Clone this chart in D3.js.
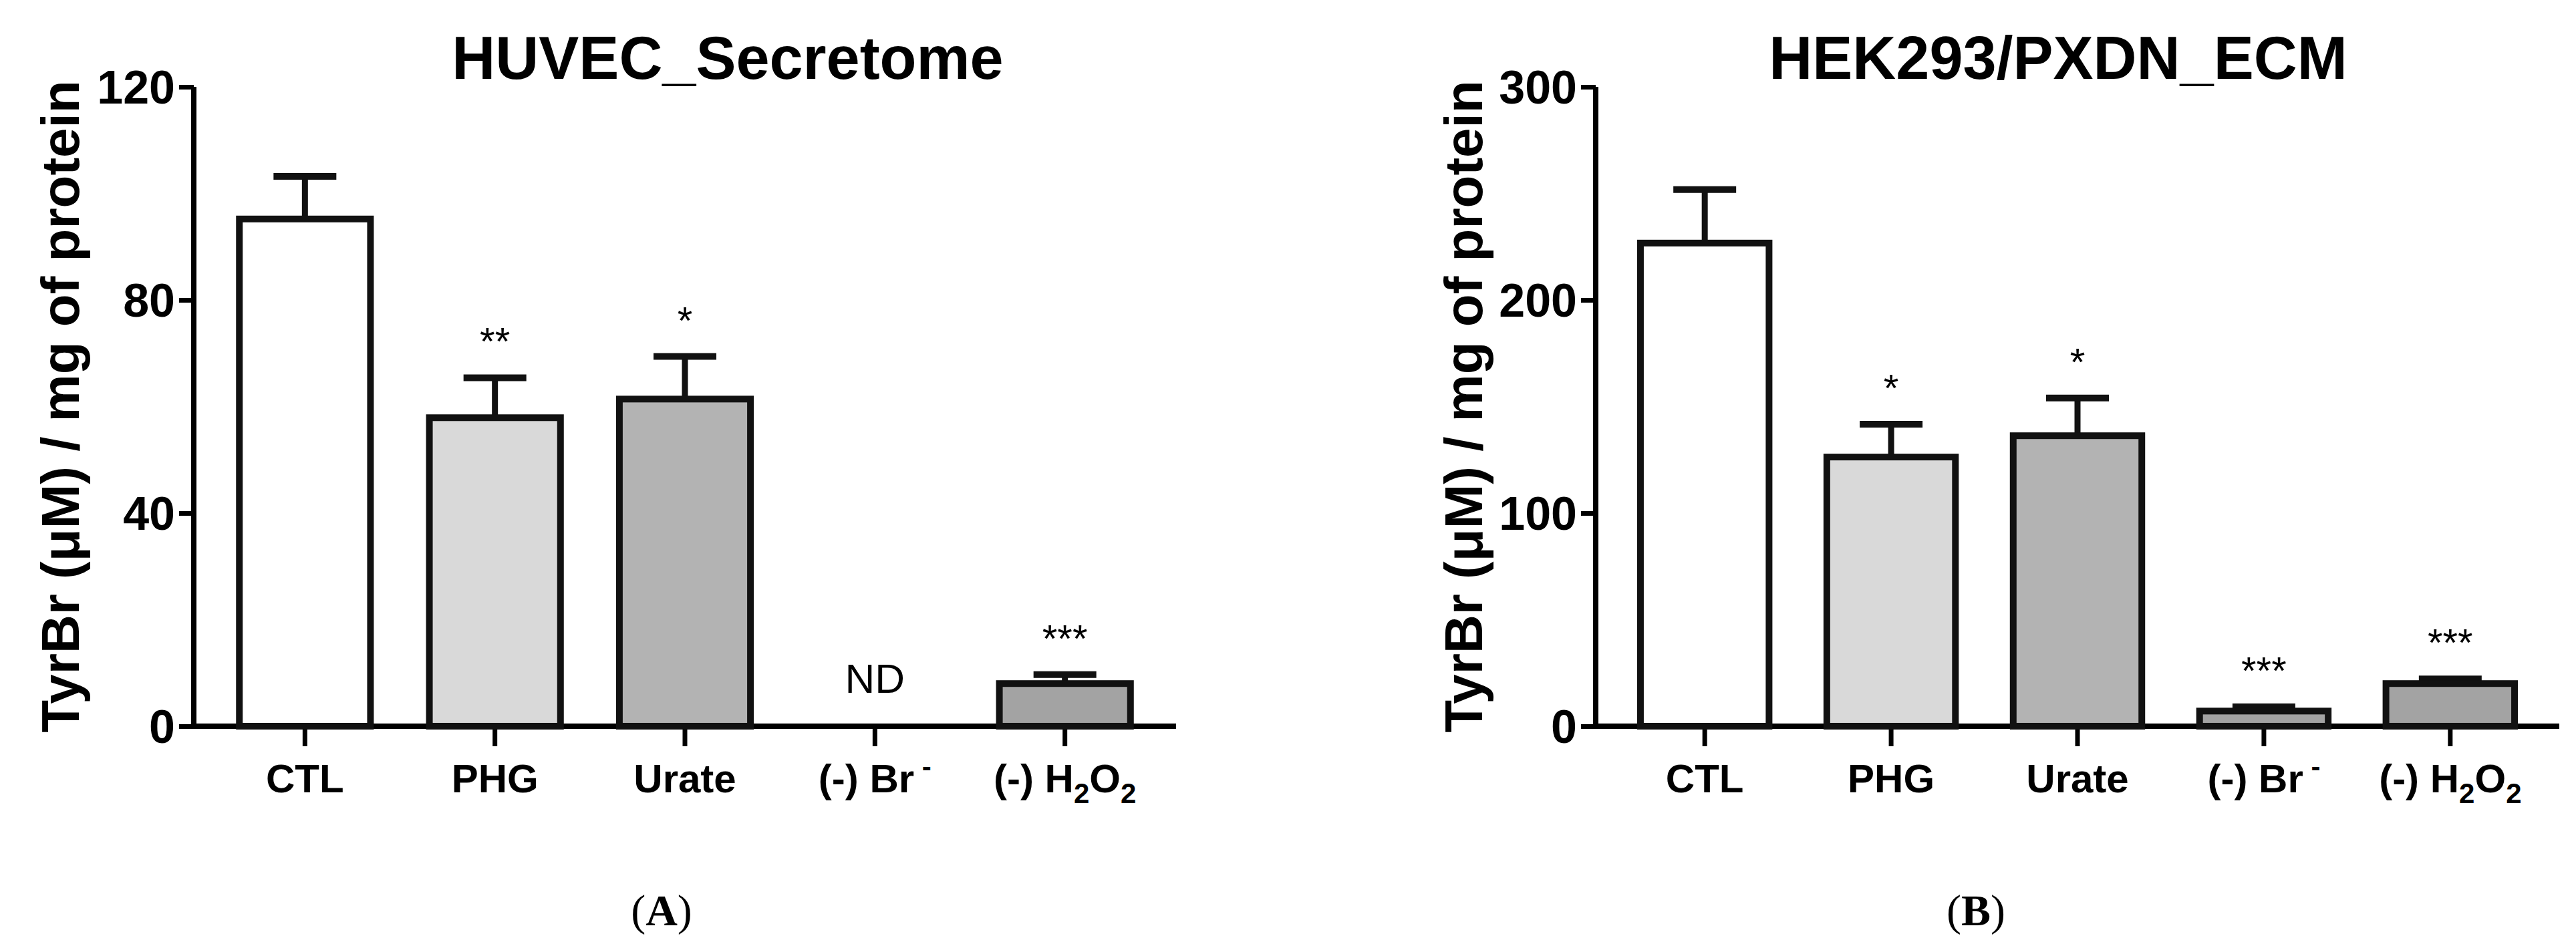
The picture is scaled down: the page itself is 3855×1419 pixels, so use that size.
<!DOCTYPE html>
<html><head><meta charset="utf-8">
<script src="https://cdn.jsdelivr.net/npm/d3@7"></script>
<style>body{margin:0;background:#fff}</style></head>
<body><svg id="c" width="3855" height="1419"></svg>
<script>
const categories = ["CTL","PHG","Urate","Br","H2O2"];
const valuesA = [95.2, 57.9, 61.4, null, 8.0];
const errorsA = [103.2, 65.4, 69.4, null, 9.7];
const starsA = ["", "**", "*", "ND", "***"];
const ticksA = [0, 40, 80, 120];
const valuesB = [226.7, 126.3, 136.3, 7.1, 20.0];
const errorsB = [251.8, 141.7, 154.0, 9.1, 22.2];
const starsB = ["", "*", "*", "***", "***"];
const ticksB = [0, 100, 200, 300];
const colors = ["#ffffff", "#d9d9d9", "#b3b3b3", "#a3a3a3", "#a3a3a3"];

const svg = d3.select("#c");
svg.append("rect").attr("width",3855).attr("height",1419).attr("fill","#fff");
const F = "'Liberation Sans', Arial, sans-serif";

function panel(o){
  const g = svg.append("g");
  const x = d3.scaleBand().domain(categories).range([o.x0, o.x1]).paddingInner(0.31).paddingOuter(0.24);
  const y = d3.scaleLinear().domain([0, o.max]).range([1087, 130]);
  const ya = g.append("g").attr("transform",`translate(${o.x0},0)`)
    .call(d3.axisLeft(y).tickValues(o.ticks).tickSize(22).tickPadding(6));
  ya.select(".domain").attr("stroke-width",8).attr("d",`M0,${y(o.max)}V${y(0)}`);
  ya.selectAll(".tick line").attr("stroke-width",7);
  ya.selectAll(".tick text").attr("font-family",F).attr("font-weight","bold").attr("font-size",70).attr("dy","0.35em");
  const xa = g.append("g").attr("transform",`translate(0,${y(0)})`)
    .call(d3.axisBottom(x).tickSize(30).tickFormat(""));
  xa.select(".domain").attr("stroke-width",8).attr("d",`M${o.x0},0H${o.xEnd}`);
  xa.selectAll(".tick line").attr("stroke-width",7);
  categories.forEach((c,i)=>{
    const t = g.append("text").attr("x",x(c)+x.bandwidth()/2).attr("y",1186)
      .attr("text-anchor","middle").attr("font-family",F).attr("font-weight","bold").attr("font-size",60);
    if(c==="Br"){ t.text("(-) Br"); t.append("tspan").attr("dy",-24).attr("font-size",42).text(" -"); }
    else if(c==="H2O2"){ t.text("(-) H"); t.append("tspan").attr("dy",16).attr("font-size",42).text("2");
      t.append("tspan").attr("dy",-16).text("O"); t.append("tspan").attr("dy",16).attr("font-size",42).text("2"); }
    else t.text(c);
  });
  const d = categories.map((c,i)=>({c, v:o.values[i], e:o.errors[i], s:o.stars[i], col:colors[i]}));
  const bw = x.bandwidth();
  d.filter(e=>e.v!=null).forEach(e=>{
    const cx = x(e.c)+bw/2;
    g.append("line").attr("x1",cx).attr("x2",cx).attr("y1",y(e.v)).attr("y2",y(e.e)).attr("stroke","#111").attr("stroke-width",9);
    g.append("line").attr("x1",cx-47).attr("x2",cx+47).attr("y1",y(e.e)).attr("y2",y(e.e)).attr("stroke","#111").attr("stroke-width",10);
    g.append("rect").attr("x",x(e.c)).attr("width",bw).attr("y",y(e.v)).attr("height",y(0)-y(e.v))
      .attr("fill",e.col).attr("stroke","#111").attr("stroke-width",10);
  });
  d.forEach(e=>{
    if(!e.s) return;
    const cx = x(e.c)+bw/2;
    if(e.s==="ND"){
      g.append("text").attr("x",cx).attr("y",y(0)-50).attr("text-anchor","middle").attr("font-family",F).attr("font-size",62).text("ND");
    } else {
      g.append("text").attr("x",cx).attr("y",y(e.e)-34).attr("text-anchor","middle").attr("font-family",F).attr("font-size",58).text(e.s);
    }
  });
  g.append("text").attr("x",o.tx).attr("y",118).attr("text-anchor","middle").attr("font-family",F).attr("font-weight","bold").attr("font-size",90).text(o.title);
  g.append("text").attr("transform",`translate(${o.lx},${(130+1087)/2}) rotate(-90)`).attr("text-anchor","middle")
    .attr("font-family",F).attr("font-weight","bold").attr("font-size",80).text("TyrBr (μM) / mg of protein");
  g.append("text").attr("x",o.px).attr("y",1385).attr("text-anchor","middle").attr("font-family","'Liberation Serif', serif").attr("font-size",66)
    .html(`(<tspan font-weight="bold">${o.letter}</tspan>)`);
}
panel({x0:290,x1:1760,xEnd:1760,max:120,ticks:ticksA,values:valuesA,errors:errorsA,stars:starsA,title:"HUVEC_Secretome",tx:1089,lx:118,px:990,letter:"A"});
panel({x0:2388,x1:3830,xEnd:3830,max:300,ticks:ticksB,values:valuesB,errors:errorsB,stars:starsB,title:"HEK293/PXDN_ECM",tx:3080,lx:2218,px:2957,letter:"B"});
</script></body></html>
